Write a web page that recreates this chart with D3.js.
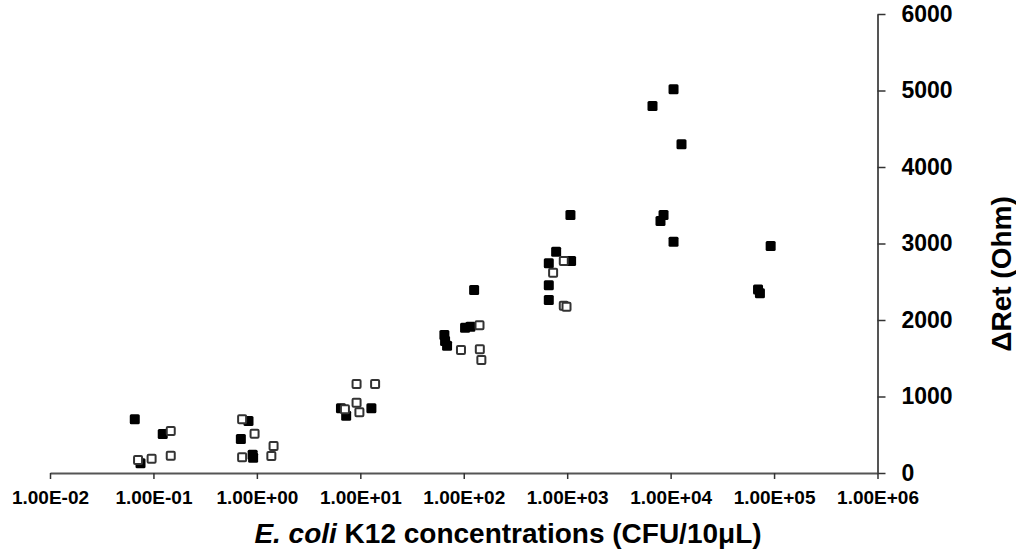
<!DOCTYPE html>
<html>
<head>
<meta charset="utf-8">
<script src="https://cdn.jsdelivr.net/npm/d3@7"></script>
<style>
  body { margin: 0; background: #fff; }
  svg text { font-family: "Liberation Sans", Arial, sans-serif; font-weight: bold; }
</style>
</head>
<body>
<div id="main"></div>
<script>
/// data ///
// filled squares
var filledConc = [0.066, 0.123, 0.075, 0.83, 0.70, 0.91, 0.92, 6.5, 7.3, 12.8,
                  126, 103, 116, 65, 66, 69, 1075, 782, 664, 1091, 664, 664,
                  10670, 6680, 12740, 8540, 7980, 10670, 92700, 70000, 73000];
var filledRet  = [702, 510, 127, 680, 444, 240, 200, 845, 749, 845,
                  2392, 1900, 1913, 1804, 1725, 1665, 3373, 2893, 2741, 2771, 2453, 2261,
                  5015, 4797, 4297, 3373, 3294, 3024, 2967, 2400, 2350];
// open squares
var openConc = [0.147, 0.071, 0.096, 0.147, 0.72, 0.95, 1.45, 0.72, 1.38,
                9.2, 13.9, 9.2, 7.1, 9.8, 142, 94, 143, 148, 927, 731, 927, 985];
var openRet  = [549, 170, 187, 226, 702, 514, 353, 205, 222,
                1163, 1163, 919, 832, 793, 1930, 1608, 1617, 1477, 2771, 2618, 2187, 2174];

var xTicks = [1e-2, 1e-1, 1e0, 1e1, 1e2, 1e3, 1e4, 1e5, 1e6];
var xTickLabels = ['1.00E-02', '1.00E-01', '1.00E+00', '1.00E+01', '1.00E+02',
                   '1.00E+03', '1.00E+04', '1.00E+05', '1.00E+06'];
var yTicks = [0, 1000, 2000, 3000, 4000, 5000, 6000];

const w = 1016, h = 554;

const svg = d3.select('#main')
              .append('svg')
              .attr('width', w)
              .attr('height', h);

const x = d3.scaleLog().domain([1e-2, 1e6]).range([50, 877.5]);
const y = d3.scaleLinear().domain([0, 6000]).range([473, 14]);

/// axes ///
const xAxis = svg.append('g')
    .attr('transform', 'translate(0,473)')
    .call(d3.axisBottom(x)
        .tickValues(xTicks)
        .tickFormat((d, i) => xTickLabels[i])
        .tickSize(6)
        .tickSizeOuter(0)
        .tickPadding(12));

const yAxis = svg.append('g')
    .attr('transform', 'translate(877.5,0)')
    .call(d3.axisRight(y)
        .tickValues(yTicks)
        .tickFormat(d3.format('d'))
        .tickSize(8)
        .tickSizeOuter(0)
        .tickPadding(16));

// axis styling
[xAxis, yAxis].forEach(function(a) {
    a.select('.domain').attr('stroke', '#555').attr('stroke-width', 2);
    a.selectAll('.tick line').attr('stroke', '#333').attr('stroke-width', 1.5);
    a.selectAll('text').attr('fill', '#000');
});
xAxis.selectAll('text').style('font-size', '19px');
yAxis.selectAll('text').style('font-size', '23px');

/// points ///
const size = 10;

svg.append('g')
    .selectAll('rect')
    .data(d3.zip(filledConc, filledRet))
    .enter()
    .append('rect')
    .attr('x', d => x(d[0]) - size / 2)
    .attr('y', d => y(d[1]) - size / 2)
    .attr('width', size)
    .attr('height', size)
    .attr('rx', 1.5)
    .attr('fill', '#000');

// open squares sit on top
svg.append('g')
    .selectAll('rect')
    .data(d3.zip(openConc, openRet))
    .enter()
    .append('rect')
    .attr('x', d => x(d[0]) - (size - 2) / 2)
    .attr('y', d => y(d[1]) - (size - 2) / 2)
    .attr('width', size - 2)
    .attr('height', size - 2)
    .attr('rx', 1)
    .attr('fill', '#fff')
    .attr('stroke', '#333')
    .attr('stroke-width', 2);

/// titles ///
const xTitle = svg.append('text')
    .attr('x', 508)
    .attr('y', 543)
    .attr('text-anchor', 'middle')
    .style('font-size', '28px');
xTitle.append('tspan').style('font-style', 'italic').text('E. coli');
xTitle.append('tspan').text(' K12 concentrations (CFU/10μL)');

svg.append('text')
    .attr('transform', 'translate(1011,274) rotate(-90)')
    .attr('text-anchor', 'middle')
    .style('font-size', '28px')
    .text('ΔRet (Ohm)');
</script>
</body>
</html>
